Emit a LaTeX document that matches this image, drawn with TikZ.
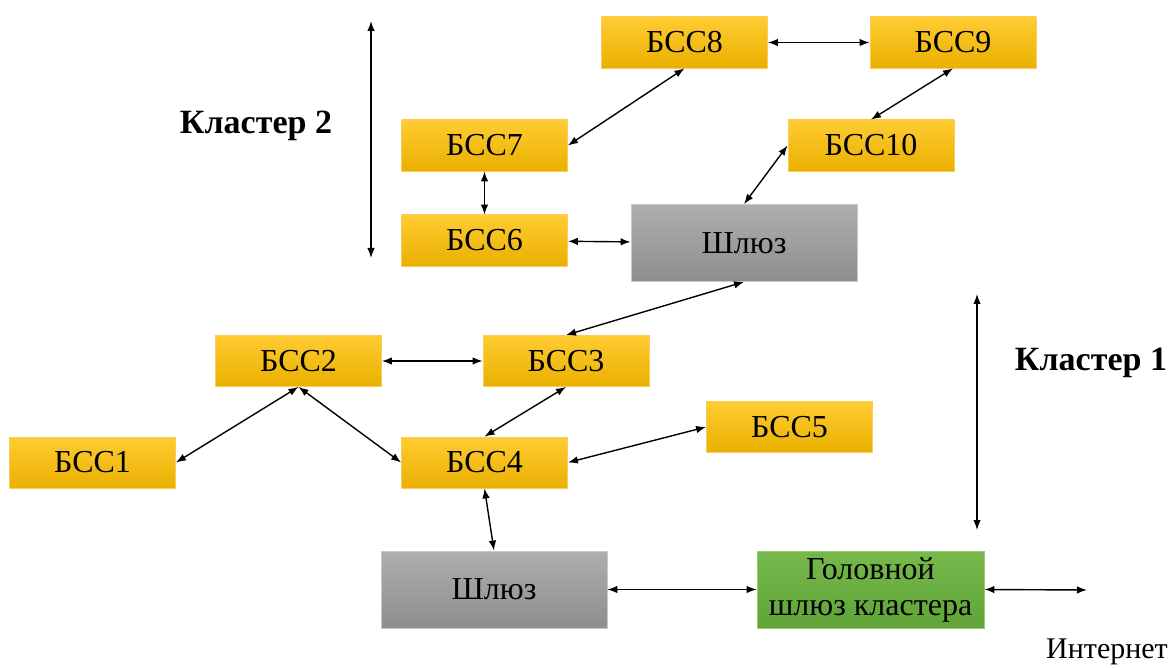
\documentclass[tikz,border=0pt]{standalone}
\usepackage{fontspec}
\setmainfont{Liberation Serif}
\usetikzlibrary{arrows.meta,shadings}
\definecolor{ytop}{RGB}{255,204,50}
\definecolor{ybot}{RGB}{234,176,0}
\definecolor{yedge}{RGB}{248,205,90}
\definecolor{gtop}{RGB}{174,174,174}
\definecolor{gbot}{RGB}{142,142,142}
\definecolor{gedge}{RGB}{200,200,200}
\definecolor{ntop}{RGB}{118,184,76}
\definecolor{nbot}{RGB}{96,164,56}
\definecolor{nedge}{RGB}{150,205,115}
\tikzset{
  base/.style={inner sep=0pt, align=center, font=\fontsize{32}{36}\selectfont, line width=0.8pt},
  ybox/.style={base, top color=ytop, bottom color=ybot, draw=yedge, minimum width=166, minimum height=51},
  gbox/.style={base, top color=gtop, bottom color=gbot, draw=gedge, minimum width=226, minimum height=77},
  hbox/.style={base, top color=ntop, bottom color=nbot, draw=nedge, minimum width=227, minimum height=77},
  lbl/.style={inner sep=0pt, font=\fontsize{34}{40}\selectfont\bfseries},
  plain/.style={inner sep=0pt, font=\fontsize{30}{36}\selectfont},
  link/.style={{Latex[length=10pt,width=7.5pt]}-{Latex[length=10pt,width=7.5pt]}, line width=1.4pt, black}
}
\begin{document}
\begin{tikzpicture}[x=1pt,y=-1pt]
\useasboundingbox (0,0) rectangle (1176,668);
\node[ybox] (b8) at (684.5,42.5) {БСС8};
\node[ybox] (b9) at (953,42.5) {БСС9};
\node[ybox] (b7) at (484.5,145.5) {БСС7};
\node[ybox] (b10) at (871,145.5) {БСС10};
\node[ybox] (b6) at (484.5,240.5) {БСС6};
\node[gbox] (g2) at (744,243) {Шлюз};
\node[ybox] (b2) at (298.5,361) {БСС2};
\node[ybox] (b3) at (566,361) {БСС3};
\node[ybox] (b5) at (789.5,427) {БСС5};
\node[ybox] (b1) at (92.5,462.5) {БСС1};
\node[ybox] (b4) at (484.5,462.5) {БСС4};
\node[gbox] (g1) at (494,589.5) {Шлюз};
\node[hbox] (h) at (870.5,589.5) {Головной\\шлюз кластера};
\node[lbl] (k2) at (256,126) {Кластер 2};
\node[lbl] (k1) at (1091,363) {Кластер 1};
\node[plain] (net) at (1107,652) {Интернет};
\coordinate (c2a) at (371,21);
\coordinate (c2b) at (371,258);
\coordinate (c1a) at (977,294);
\coordinate (c1b) at (977,530);
\coordinate (inet) at (1087,590);
\draw[link] (c2a) -- (c2b);
\draw[link] (c1a) -- (c1b);
\draw[link] (b8) -- (b9);
\draw[link] (b8.south) -- (b7.east);
\draw[link] (b9.south) -- (b10.north);
\draw[link] (b10.west) -- (g2.north);
\draw[link] (b7) -- (b6);
\draw[link] (b6) -- (g2);
\draw[link] (g2.south) -- (b3.north);
\draw[link] (b2) -- (b3);
\draw[link] (b2.south) -- (b1.east);
\draw[link] (b2.south) -- (b4.west);
\draw[link] (b3.south) -- (b4.north);
\draw[link] (b4.east) -- (b5.west);
\draw[link] (b4.south) -- (g1.north);
\draw[link] (g1) -- (h);
\draw[link] (h.east) -- (inet);
\end{tikzpicture}
\end{document}
